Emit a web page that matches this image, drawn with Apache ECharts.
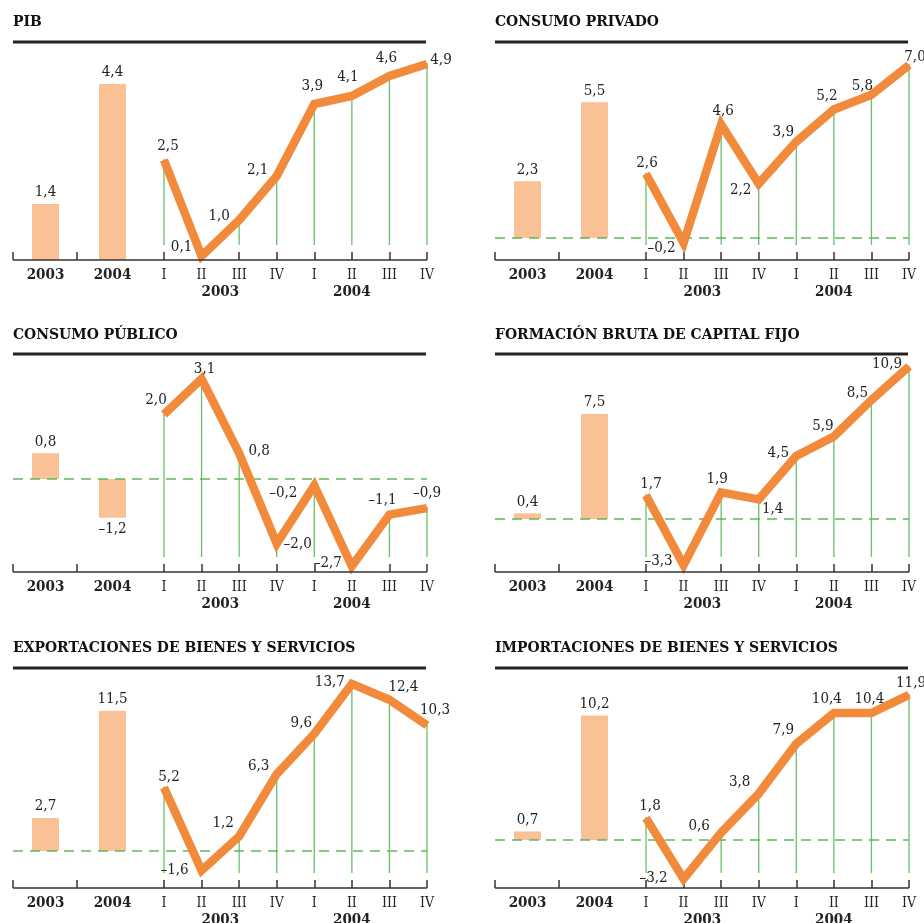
<!DOCTYPE html>
<html>
<head>
<meta charset="utf-8">
<script src="https://cdn.jsdelivr.net/npm/echarts@6/dist/echarts.min.js"></script>
<style>
  html, body { margin: 0; padding: 0; background: #ffffff; }
  #chart { width: 924px; height: 923px; }
</style>
</head>
<body>
<div id="chart"></div>
<script>
// Categories
const years = ['2003', '2004'];
const quarters = ['I', 'II', 'III', 'IV', 'I', 'II', 'III', 'IV'];
const quarterYears = ['2003', '2004'];
const titles = [
  'PIB',
  'CONSUMO PRIVADO',
  'CONSUMO PÚBLICO',
  'FORMACIÓN BRUTA DE CAPITAL FIJO',
  'EXPORTACIONES DE BIENES Y SERVICIOS',
  'IMPORTACIONES DE BIENES Y SERVICIOS'
];

// Annual growth (%)
const pibAnnual = [1.4, 4.4];
const privadoAnnual = [2.3, 5.5];
const publicoAnnual = [0.8, -1.2];
const fbcfAnnual = [0.4, 7.5];
const exportAnnual = [2.7, 11.5];
const importAnnual = [0.7, 10.2];

// Quarterly growth (%), 2003 I .. 2004 IV
const pibQuarterly = [2.5, 0.1, 1.0, 2.1, 3.9, 4.1, 4.6, 4.9];
const privadoQuarterly = [2.6, -0.2, 4.6, 2.2, 3.9, 5.2, 5.8, 7.0];
const publicoQuarterly = [2.0, 3.1, 0.8, -2.0, -0.2, -2.7, -1.1, -0.9];
const fbcfQuarterly = [1.7, -3.3, 1.9, 1.4, 4.5, 5.9, 8.5, 10.9];
const exportQuarterly = [5.2, -1.6, 1.2, 6.3, 9.6, 13.7, 12.4, 10.3];
const importQuarterly = [1.8, -3.2, 0.6, 3.8, 7.9, 10.4, 10.4, 11.9];

const annualSeries = [pibAnnual, privadoAnnual, publicoAnnual, fbcfAnnual, exportAnnual, importAnnual];
const quarterlySeries = [pibQuarterly, privadoQuarterly, publicoQuarterly, fbcfQuarterly, exportQuarterly, importQuarterly];

// ---- Layout (pixels) ----
const COL_X = [13, 495];
const ROWS = [
  { title: 22, rule: 42, top: 50, axis: 260 },
  { title: 335, rule: 354, top: 362, axis: 572 },
  { title: 648, rule: 668, top: 676, axis: 888 }
];
// pixel row of the zero value and pixels per percentage point, per panel
const SCALES = [
  { zero: 260, ppu: 40 },
  { zero: 238, ppu: 24.7 },
  { zero: 479, ppu: 32.3 },
  { zero: 519, ppu: 14.0 },
  { zero: 851, ppu: 12.2 },
  { zero: 840, ppu: 12.2 }
];
// value label placement around each quarterly point [dx, dy]
const labelOffsets = [
  [[4, -14], [-20, -9], [-20, -4], [-19, -6], [-2, -18], [-4, -19], [-3, -18], [14, -4]],
  [[1, -11], [-22, 5], [2, -13], [-18, 6], [-13, -10], [-7, -13], [-9, -9], [6, -8]],
  [[-8, -14], [3, -10], [20, -2], [21, 1], [-31, 8], [-24, -3], [-7, -14], [0, -15]],
  [[5, -11], [-25, -4], [-4, -13], [14, 10], [-18, -3], [-11, -10], [-14, -7], [-22, -2]],
  [[5, -10], [-27, 0], [-16, -13], [-18, -8], [-13, -11], [-22, -2], [14, -13], [8, -15]],
  [[4, -12], [-30, -1], [-22, -7], [-19, -12], [-13, -14], [-7, -14], [-2, -14], [2, -12]]
];

const FONT = "'DejaVu Serif Condensed', 'DejaVu Serif', serif";
const ORANGE = '#f28a3c';
const PEACH = '#f9c195';
const GREEN = '#66c266';
const INK = '#222222';

function fmt(v) {
  const s = Math.abs(v).toFixed(1).replace('.', ',');
  return v < 0 ? '\u2013' + s : s;
}

const grids = [], xAxes = [], yAxes = [], series = [];
const panels = [];

titles.forEach((title, p) => {
  const x0 = COL_X[p % 2];
  const row = ROWS[Math.floor(p / 2)];
  const sc = SCALES[p];
  const yMin = -(row.axis - sc.zero) / sc.ppu;
  const yMax = (sc.zero - row.top) / sc.ppu;
  const h = row.axis - row.top;
  const bg = grids.length, lg = bg + 1;
  panels.push({ x0, row, yMin, lineSeries: series.length + 2 });

  grids.push({ left: x0 - 1, top: row.top, width: 134, height: h });
  grids.push({ left: x0 + 151, top: row.top, width: 263, height: h });

  xAxes.push({
    type: 'category', gridIndex: bg, data: years, boundaryGap: true,
    axisLine: { show: false, onZero: false }, axisTick: { show: false },
    axisLabel: { margin: 8, color: INK, fontFamily: FONT, fontWeight: 'bold', fontSize: 15 }
  });
  xAxes.push({
    type: 'category', gridIndex: lg, data: quarters, boundaryGap: false,
    axisLine: { show: false, onZero: false },
    axisTick: { show: true, inside: true, length: 8, lineStyle: { color: '#333', width: 1.5 } },
    axisLabel: { margin: 8, color: INK, fontFamily: FONT, fontSize: 14, interval: 0 }
  });
  [bg, lg].forEach(g => yAxes.push({
    type: 'value', gridIndex: g, min: yMin, max: yMax, show: false,
    splitLine: { show: false }
  }));

  series.push({
    type: 'bar', xAxisIndex: bg, yAxisIndex: bg, barWidth: 27, z: 1,
    itemStyle: { color: PEACH },
    data: annualSeries[p].map(v => ({ value: v, label: { position: v < 0 ? 'bottom' : 'top' } })),
    label: {
      show: true, distance: 4, color: INK, fontFamily: FONT, fontSize: 15,
      formatter: d => fmt(d.value)
    },
    silent: true
  });

  series.push({
    type: 'custom', xAxisIndex: lg, yAxisIndex: lg, z: 2, silent: true,
    data: quarterlySeries[p].map((v, i) => [i, v]),
    renderItem: (params, api) => {
      const pt = api.coord([api.value(0), api.value(1)]);
      const base = api.coord([api.value(0), yMin])[1] - 15;
      if (pt[1] >= base) return null;
      return {
        type: 'line',
        shape: { x1: pt[0], y1: base, x2: pt[0], y2: pt[1] },
        style: { stroke: GREEN, lineWidth: 1.3 }
      };
    }
  });

  series.push({
    type: 'line', xAxisIndex: lg, yAxisIndex: lg, z: 5, silent: true,
    symbol: 'circle', symbolSize: 2, showAllSymbol: true,
    itemStyle: { color: ORANGE },
    lineStyle: { color: ORANGE, width: 8.5, join: 'miter', cap: 'butt' },
    data: quarterlySeries[p].map((v, i) => ({ value: v, label: { offset: labelOffsets[p][i] } })),
    label: {
      show: true, position: 'inside', color: INK, fontFamily: FONT, fontSize: 15,
      formatter: d => fmt(d.value)
    }
  });
});

const chart = echarts.init(document.getElementById('chart'), null, { renderer: 'canvas' });
chart.setOption({
  animation: false,
  backgroundColor: '#ffffff',
  grid: grids, xAxis: xAxes, yAxis: yAxes, series: series
});

// Titles, rules, baseline, zero reference and year groupings
const graphics = [];
panels.forEach((pn, p) => {
  const { x0, row, yMin, lineSeries } = pn;
  graphics.push({
    type: 'text', x: x0, y: row.title, z: 10,
    style: { text: titles[p], fill: '#111', font: "bold 15.5px " + FONT, textVerticalAlign: 'middle' }
  });
  graphics.push({
    type: 'rect', z: 10, shape: { x: x0, y: row.rule - 1.5, width: 413, height: 3 },
    style: { fill: INK }
  });
  graphics.push({
    type: 'line', z: 10, shape: { x1: x0, y1: row.axis, x2: x0 + 414, y2: row.axis },
    style: { stroke: '#333', lineWidth: 1.5 }
  });
  [x0, x0 + 64].forEach(tx => graphics.push({
    type: 'line', z: 10, shape: { x1: tx, y1: row.axis - 8, x2: tx, y2: row.axis },
    style: { stroke: '#333', lineWidth: 1.5 }
  }));
  if (yMin < 0) {
    const zy = chart.convertToPixel({ seriesIndex: lineSeries }, [0, 0])[1];
    graphics.push({
      type: 'line', z: 3, shape: { x1: x0, y1: zy, x2: x0 + 414, y2: zy },
      style: { stroke: '#5cb85c', lineWidth: 1.5, lineDash: [10, 7] }
    });
  }
  const xa = chart.convertToPixel({ seriesIndex: lineSeries }, [1, 0])[0];
  const xb = chart.convertToPixel({ seriesIndex: lineSeries }, [2, 0])[0];
  const xc = chart.convertToPixel({ seriesIndex: lineSeries }, [5, 0])[0];
  [[quarterYears[0], (xa + xb) / 2], [quarterYears[1], xc]].forEach(([t, x]) => graphics.push({
    type: 'text', x: x, y: row.axis + 32, z: 10,
    style: { text: t, fill: INK, font: "bold 15px " + FONT, textAlign: 'center', textVerticalAlign: 'middle' }
  }));
});
chart.setOption({ graphic: graphics });
</script>
</body>
</html>
